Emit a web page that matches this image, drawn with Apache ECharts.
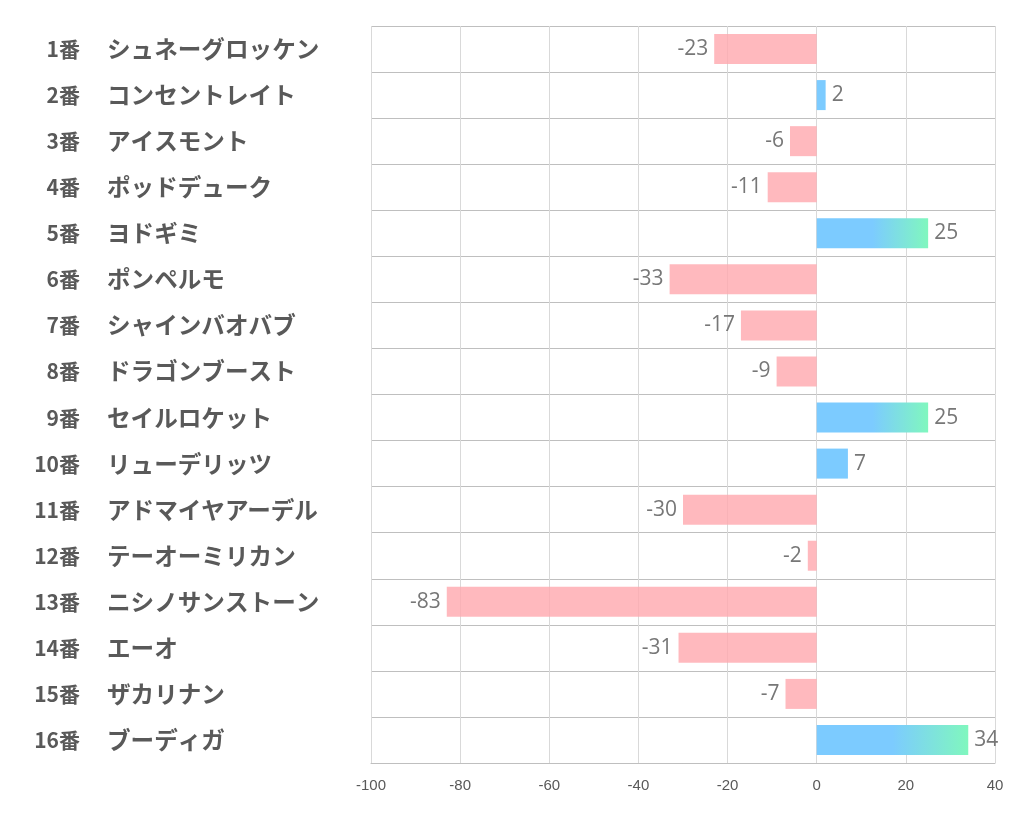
<!DOCTYPE html>
<html>
<head>
<meta charset="utf-8">
<script src="https://cdn.jsdelivr.net/npm/echarts@6/dist/echarts.min.js"></script>
<style>html,body{margin:0;padding:0;background:#fff;}#c{width:1022px;height:834px;}</style>
</head>
<body>
<div id="c"></div>
<script>
const horseNumbers = ['1番','2番','3番','4番','5番','6番','7番','8番','9番','10番','11番','12番','13番','14番','15番','16番'];
const horseNames = ['シュネーグロッケン','コンセントレイト','アイスモント','ポッドデューク','ヨドギミ','ポンペルモ','シャインバオバブ','ドラゴンブースト','セイルロケット','リューデリッツ','アドマイヤアーデル','テーオーミリカン','ニシノサンストーン','エーオ','ザカリナン','ブーディガ'];
const values = [-23, 2, -6, -11, 25, -33, -17, -9, 25, 7, -30, -2, -83, -31, -7, 34];
const xMin = -100, xMax = 40, xStep = 20;

const chart = echarts.init(document.getElementById('c'));
const pink = 'rgba(255,170,176,0.82)';
const blue = '#7CCBFF';
const green = '#80F7BE';
const seriesData = values.map(v => {
  let color;
  if (v < 0) color = pink;
  else if (v >= 20) color = new echarts.graphic.LinearGradient(0, 0, 1, 0, [
    {offset: 0, color: blue}, {offset: 0.5, color: blue}, {offset: 1, color: green}]);
  else color = blue;
  return {
    value: v,
    itemStyle: {color: color},
    label: {position: v < 0 ? 'left' : 'right'}
  };
});
const labelFont = {fontWeight: 'bold', color: '#595959', fontFamily: 'Noto Sans CJK JP'};

chart.setOption({
  animation: false,
  grid: {left: 371, right: 27, top: 26, bottom: 71, containLabel: false},
  xAxis: {
    type: 'value', min: xMin, max: xMax, interval: xStep,
    axisLine: {show: true, lineStyle: {color: '#BFBFBF', width: 1}},
    axisTick: {show: false},
    splitLine: {show: true, lineStyle: {color: '#D9D9D9', width: 1}},
    axisLabel: {color: '#595959', fontSize: 15, margin: 15, fontFamily: 'Liberation Sans, sans-serif'}
  },
  yAxis: [{
    type: 'category', inverse: true, data: horseNumbers,
    axisLine: {show: false},
    axisTick: {show: false},
    splitLine: {show: true, lineStyle: {color: '#BFBFBF', width: 1}},
    axisLabel: Object.assign({margin: 291, align: 'right', fontSize: 21}, labelFont)
  }, {
    type: 'category', inverse: true, data: horseNames, position: 'left',
    axisLine: {show: false},
    axisTick: {show: false},
    splitLine: {show: false},
    axisLabel: Object.assign({margin: 264, align: 'left', fontSize: 23.6}, labelFont)
  }],
  series: [{
    type: 'bar',
    yAxisIndex: 0,
    data: seriesData,
    barWidth: 30,
    label: {show: true, color: '#777777', fontSize: 21, distance: 6, padding: [4, 0, 0, 0], fontFamily: 'Open Sans, sans-serif', formatter: '{c}'}
  }]
});
</script>
</body>
</html>
